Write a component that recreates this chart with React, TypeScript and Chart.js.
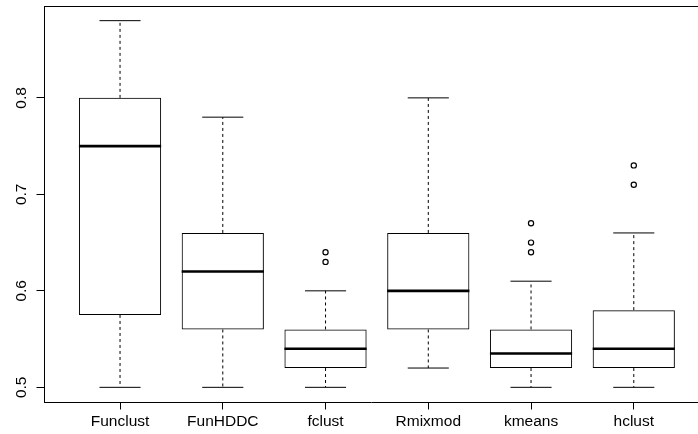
import React, { useEffect, useRef } from 'react';
import { Chart, registerables } from 'chart.js';

Chart.register(...registerables);

// ---- data ----
const categories = ['Funclust', 'FunHDDC', 'fclust', 'Rmixmod', 'kmeans', 'hclust'];
const whiskerLow = [0.5, 0.5, 0.5, 0.52, 0.5, 0.5];
const q1 = [0.575, 0.56, 0.52, 0.56, 0.52, 0.52];
const median = [0.75, 0.62, 0.54, 0.6, 0.535, 0.54];
const q3 = [0.8, 0.66, 0.56, 0.66, 0.56, 0.58];
const whiskerHigh = [0.88, 0.78, 0.6, 0.8, 0.61, 0.66];
const outliers: number[][] = [[], [], [0.63, 0.64], [], [0.64, 0.65, 0.67], [0.71, 0.73]];
const yTicks = [0.5, 0.6, 0.7, 0.8];
const yTickLabels = ['0.5', '0.6', '0.7', '0.8'];

const FONT = { family: '"Liberation Sans", Arial, Helvetica, sans-serif', size: 15.5 };

const topFrame = {
  id: 'topFrame',
  afterDraw(chart: any) {
    const { ctx, chartArea } = chart;
    ctx.save();
    ctx.strokeStyle = '#000';
    ctx.lineWidth = 1;
    const y = Math.round(chartArea.top - 0.5) + 0.5;
    ctx.beginPath();
    ctx.moveTo(chartArea.left, y);
    ctx.lineTo(chartArea.right, y);
    ctx.stroke();
    ctx.restore();
  },
};

export default function App() {
  const ref = useRef<HTMLCanvasElement | null>(null);

  useEffect(() => {
    if (!ref.current) return;

    const medianData: any[] = [];
    const whiskerData: any[] = [];
    const capData: any[] = [];
    categories.forEach((_, i) => {
      const c = i + 1;
      medianData.push({ x: c - 0.4, y: median[i] }, { x: c + 0.4, y: median[i] }, { x: c + 0.4, y: null });
      whiskerData.push(
        { x: c, y: q3[i] }, { x: c, y: whiskerHigh[i] }, { x: c, y: null },
        { x: c, y: q1[i] }, { x: c, y: whiskerLow[i] }, { x: c, y: null }
      );
      capData.push(
        { x: c - 0.2, y: whiskerHigh[i] }, { x: c + 0.2, y: whiskerHigh[i] }, { x: c + 0.2, y: null },
        { x: c - 0.2, y: whiskerLow[i] }, { x: c + 0.2, y: whiskerLow[i] }, { x: c + 0.2, y: null }
      );
    });
    const outlierData: any[] = [];
    outliers.forEach((arr, i) => arr.forEach((v) => outlierData.push({ x: i + 1, y: v })));

    const lineCommon = {
      type: 'line' as const,
      borderColor: '#000',
      pointRadius: 0,
      pointHoverRadius: 0,
      tension: 0,
      spanGaps: false,
      fill: false,
    };

    const grid = {
      display: true,
      drawOnChartArea: false,
      drawTicks: true,
      tickLength: 7.5,
      color: '#000',
      lineWidth: 1,
      offset: false,
    };

    const chart = new Chart(ref.current, {
      type: 'bar',
      data: {
        datasets: [
          { ...lineCommon, data: medianData, borderWidth: 2.6 } as any,
          { ...lineCommon, data: capData, borderWidth: 1 } as any,
          { ...lineCommon, data: whiskerData, borderWidth: 1, borderDash: [3, 3] } as any,
          {
            type: 'scatter',
            data: outlierData,
            showLine: false,
            pointStyle: 'circle',
            pointRadius: 2.6,
            pointHoverRadius: 2.6,
            pointBorderWidth: 1.2,
            pointBorderColor: '#000',
            pointBackgroundColor: 'rgba(0,0,0,0)',
          } as any,
          {
            type: 'bar',
            data: categories.map((_, i) => ({ x: i + 1, y: [q1[i], q3[i]] })),
            backgroundColor: 'rgba(255,255,255,0)',
            borderColor: '#000',
            borderWidth: 1,
            borderSkipped: false,
            barPercentage: 0.8,
            categoryPercentage: 1,
          } as any,
        ],
      },
      options: {
        animation: false,
        responsive: true,
        maintainAspectRatio: false,
        events: [],
        layout: { autoPadding: false, padding: { top: 6, left: 0, right: 0, bottom: 0 } },
        plugins: {
          legend: { display: false },
          tooltip: { enabled: false },
          title: { display: false },
        },
        scales: {
          x: {
            type: 'linear',
            min: 0.26,
            max: 6.625,
            offset: false,
            afterBuildTicks: (s: any) => {
              s.ticks = categories.map((_, i) => ({ value: i + 1 }));
            },
            afterFit: (s: any) => {
              s.height = 32;
              s.paddingLeft = 0;
              s.paddingRight = 0;
            },
            ticks: {
              autoSkip: false,
              minRotation: 0,
              maxRotation: 0,
              padding: 3,
              color: '#000',
              font: FONT,
              callback: (_v: any, i: number) => categories[i],
            },
            grid,
            border: { display: true, color: '#000', width: 1 },
          },
          y: {
            type: 'linear',
            min: 0.4848,
            max: 0.8952,
            beginAtZero: false,
            afterBuildTicks: (s: any) => {
              s.ticks = yTicks.map((v) => ({ value: v }));
            },
            afterFit: (s: any) => {
              s.width = 44;
              s.paddingTop = 0;
              s.paddingBottom = 0;
              s.paddingLeft = 0;
              s.paddingRight = 0;
            },
            ticks: {
              minRotation: 90,
              maxRotation: 90,
              crossAlign: 'center',
              padding: 4.4,
              color: '#000',
              font: FONT,
              callback: (_v: any, i: number) => yTickLabels[i],
            },
            grid,
            border: { display: true, color: '#000', width: 1 },
          },
        },
      } as any,
      plugins: [topFrame],
    });

    return () => chart.destroy();
  }, []);

  return (
    <div style={{ position: 'fixed', left: 0, top: 0, width: 698, height: 434, background: '#fff' }}>
      <canvas ref={ref} style={{ display: 'block' }} />
    </div>
  );
}
